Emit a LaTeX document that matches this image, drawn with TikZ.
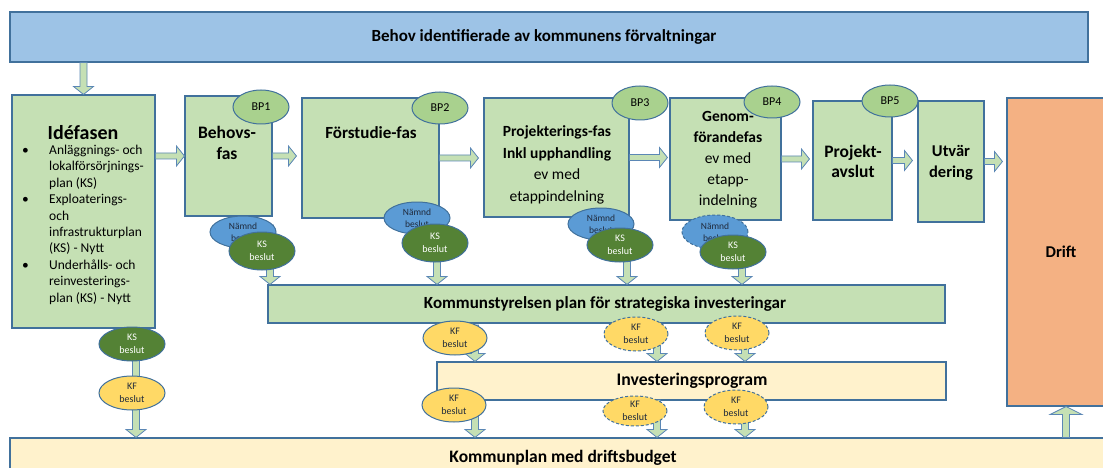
\documentclass[tikz,border=0pt]{standalone}
\usepackage{fontspec}
\setmainfont{Carlito}
\usetikzlibrary{shapes.geometric,calc}
\definecolor{bordc}{HTML}{41719C}
\definecolor{topblue}{HTML}{9DC3E6}
\definecolor{boxgreen}{HTML}{C5E0B4}
\definecolor{bpgreen}{HTML}{A9D18E}
\definecolor{namndblue}{HTML}{5B9BD5}
\definecolor{ksgreen}{HTML}{548235}
\definecolor{kfyellow}{HTML}{FFD966}
\definecolor{paleyellow}{HTML}{FFF2CC}
\definecolor{driftorange}{HTML}{F4B183}
\definecolor{arrowfill}{HTML}{C5E0B4}
\definecolor{arrowedge}{HTML}{5B87B5}
\definecolor{darktext}{HTML}{1F2A3C}

\tikzset{
  rbox/.style={draw=bordc, line width=1.1pt, rectangle, inner sep=0pt},
  greenbox/.style={rbox, fill=boxgreen},
  oval/.style={ellipse, draw=bordc, line width=1pt, inner sep=0pt, align=center},
  bp/.style={oval, fill=bpgreen, font=\fontsize{12}{14}\selectfont},
  namnd/.style={oval, fill=namndblue, text=darktext, font=\fontsize{9.5}{12}\selectfont},
  ks/.style={oval, fill=ksgreen, text=white, font=\fontsize{10}{12.5}\selectfont},
  kf/.style={oval, fill=kfyellow, text=darktext, font=\fontsize{10}{12.5}\selectfont},
  dsh/.style={dash pattern=on 3pt off 2pt},
  barrow/.style={fill=arrowfill, draw=arrowedge, line width=0.8pt, line join=miter},
  ttl/.style={font=\fontsize{17.5}{21}\selectfont\bfseries, align=center, inner sep=0pt},
  lbl/.style={align=center, inner sep=0pt},
}

% block arrows: #2 start point, #3 end point
\newcommand\arrdown[3][10pt]{%
  \path[barrow] let \p1=(#2), \p2=(#3) in
    ({\x1-3.5pt},\y1) -- ({\x1-3.5pt},{\y2+8pt}) -- ({\x1-#1},{\y2+8pt}) -- (\x1,\y2)
    -- ({\x1+#1},{\y2+8pt}) -- ({\x1+3.5pt},{\y2+8pt}) -- ({\x1+3.5pt},\y1) -- cycle;}
\newcommand\arrup[3][10pt]{%
  \path[barrow] let \p1=(#2), \p2=(#3) in
    ({\x1-3.5pt},\y1) -- ({\x1-3.5pt},{\y2-8pt}) -- ({\x1-#1},{\y2-8pt}) -- (\x1,\y2)
    -- ({\x1+#1},{\y2-8pt}) -- ({\x1+3.5pt},{\y2-8pt}) -- ({\x1+3.5pt},\y1) -- cycle;}
\newcommand\arrright[3][10pt]{%
  \path[barrow] let \p1=(#2), \p2=(#3) in
    (\x1,{\y1+3pt}) -- ({\x2-8pt},{\y1+3pt}) -- ({\x2-8pt},{\y1+#1}) -- (\x2,\y1)
    -- ({\x2-8pt},{\y1-#1}) -- ({\x2-8pt},{\y1-3pt}) -- (\x1,{\y1-3pt}) -- cycle;}

\begin{document}
\begin{tikzpicture}[x=1pt, y=-1pt]
\useasboundingbox (0,0) rectangle (1103,468);
\clip (0,0) rectangle (1103,468);

% ---------- boxes ----------
\node[rbox, fill=topblue, minimum width=1078pt, minimum height=50pt] (top) at (549,37) {};
\node[lbl, font=\fontsize{17}{19}\selectfont\bfseries] (toptxt) at (544,37) {Behov identifierade av kommunens förvaltningar};

\node[greenbox, minimum width=143pt, minimum height=233pt] (ide) at (83.5,211.5) {};
\node[greenbox, minimum width=87pt, minimum height=120pt] (beh) at (228.5,156) {};
\node[greenbox, minimum width=137pt, minimum height=120pt] (fst) at (370.5,158) {};
\node[greenbox, minimum width=145pt, minimum height=119pt] (pro) at (556.5,157.5) {};
\node[greenbox, minimum width=111pt, minimum height=122pt] (gen) at (725.5,159) {};
\node[greenbox, minimum width=79pt, minimum height=119pt] (avs) at (852.5,160.5) {};
\node[greenbox, minimum width=66pt, minimum height=121pt] (utv) at (951,161.5) {};
\node[rbox, fill=driftorange, minimum width=118pt, minimum height=308pt] (drift) at (1066,252) {};
\node[greenbox, minimum width=677pt, minimum height=38pt] (plan) at (606.5,304) {};
\node[rbox, fill=paleyellow, minimum width=509pt, minimum height=38pt] (inv) at (691.5,381) {};
\node[rbox, fill=paleyellow, minimum width=1110pt, minimum height=62pt] (bot) at (565,469) {};

% ---------- texts ----------
\node[ttl, font=\fontsize{20}{22}\selectfont\bfseries] (idet) at (83,133) {Idéfasen};
\node[anchor=north west, inner sep=0pt, align=left, font=\fontsize{13.5}{16.4}\selectfont] (idel) at (18,145) {%
\makebox[31pt][l]{\hspace{4pt}\textbullet}Anläggnings- och\\
\hspace*{31pt}lokalförsörjnings-\\
\hspace*{31pt}plan (KS)\\
\makebox[31pt][l]{\hspace{4pt}\textbullet}Exploaterings-\\
\hspace*{31pt}och\\
\hspace*{31pt}infrastrukturplan\\
\hspace*{31pt}(KS) - Nytt\\
\makebox[31pt][l]{\hspace{4pt}\textbullet}Underhålls- och\\
\hspace*{31pt}reinvesterings-\\
\hspace*{31pt}plan (KS) - Nytt};

\node[ttl] (beht) at (227,142.5) {Behovs-\\fas};
\node[ttl, font=\fontsize{17}{21}\selectfont\bfseries] (fstt) at (371,133) {Förstudie-fas};
\node[ttl, font=\fontsize{15.5}{21.5}\selectfont] (prot) at (557,165) {\textbf{Projekterings-fas}\\\textbf{Inkl upphandling}\\ev med\\etappindelning};
\node[ttl, font=\fontsize{15.5}{21}\selectfont] (gent) at (728,160) {\textbf{Genom-}\\\textbf{förandefas}\\ev med\\etapp-\\indelning};
\node[ttl, font=\fontsize{17.5}{19.5}\selectfont\bfseries] (avst) at (853,161.5) {Projekt-\\avslut};
\node[ttl, font=\fontsize{16.5}{21}\selectfont\bfseries] (utvt) at (951,162.5) {Utvär\\dering};
\node[ttl, font=\fontsize{16.5}{20}\selectfont\bfseries] (driftt) at (1061,252) {Drift};
\node[ttl, font=\fontsize{17}{19}\selectfont\bfseries] (plant) at (605,304) {Kommunstyrelsen plan för strategiska investeringar};
\node[ttl, font=\fontsize{17.7}{19}\selectfont\bfseries] (invt) at (692,381) {Investeringsprogram};
\node[ttl, font=\fontsize{17.5}{19}\selectfont\bfseries] (bott) at (563,458) {Kommunplan med driftsbudget};

% ---------- arrows ----------
\arrdown{ide.north |- top.south}{ide.north}
\arrright{ide.east |- beh.west}{beh.west}
\arrright{beh.east}{$(fst.west)+(-5,0)$}
\arrright{fst.east}{$(pro.west)+(-5,0)$}
\arrright{pro.east}{$(gen.west)+(-2,0)$}
\arrright{gen.east}{$(avs.west)+(-3,0)$}
\arrright{avs.east}{$(utv.west)+(-5,0)$}
\arrright{utv.east}{$(drift.west)+(-4,0)$}

\coordinate (c1) at (270,225);
\coordinate (c2) at (437,230);
\coordinate (c3) at (627,235);
\coordinate (c4) at (742,240);
\arrdown{c1}{plan.north}
\arrdown{c2}{plan.north}
\arrdown{c3}{plan.north}
\arrdown{c4}{plan.north}

\coordinate (c5) at (475,325);
\coordinate (c6) at (657,325);
\coordinate (c7) at (745,325);
\arrdown{c5}{inv.north}
\arrdown{c6}{inv.north}
\arrdown{c7}{inv.north}

\coordinate (c8) at (475,400);
\coordinate (c9) at (657,400);
\coordinate (c10) at (745,400);
\arrdown{c8}{bot.north}
\arrdown{c9}{bot.north}
\arrdown{c10}{bot.north}

\coordinate (c11) at (136,345);
\arrdown{c11}{bot.north}
\arrup[16pt]{drift.south |- bot.north}{drift.south}

% ---------- ellipses ----------
\node[bp, minimum width=56pt, minimum height=34pt] (bp1) at (261,107) {BP1};
\node[bp, minimum width=56pt, minimum height=32pt] (bp2) at (440,108) {BP2};
\node[bp, minimum width=56pt, minimum height=34pt] (bp3) at (640,103) {BP3};
\node[bp, minimum width=56pt, minimum height=32pt] (bp4) at (772,102) {BP4};
\node[bp, minimum width=56pt, minimum height=32pt] (bp5) at (890,101) {BP5};

\node[namnd, minimum width=66pt, minimum height=32pt] (n1) at (243,232) {Nämnd\\beslut};
\node[ks, minimum width=66pt, minimum height=38pt] (ks1) at (262,251) {KS\\beslut};
\node[namnd, minimum width=66pt, minimum height=32pt] (n2) at (417,218) {Nämnd\\beslut};
\node[ks, minimum width=66pt, minimum height=38pt] (ks2) at (435,243) {KS\\beslut};
\node[namnd, minimum width=66pt, minimum height=32pt] (n3) at (601,224) {Nämnd\\beslut};
\node[ks, minimum width=66pt, minimum height=34pt] (ks3) at (620,245) {KS\\beslut};
\node[namnd, dsh, minimum width=66pt, minimum height=34pt] (n4) at (715,232) {Nämnd\\beslut};
\node[ks, minimum width=66pt, minimum height=34pt] (ks4) at (733,252) {KS\\beslut};

\node[ks, minimum width=66pt, minimum height=34pt] (ksi) at (132,344) {KS\\beslut};
\node[kf, minimum width=66pt, minimum height=34pt] (kfi) at (132,393) {KF\\beslut};

\node[kf, minimum width=64pt, minimum height=34pt] (kf1) at (455,338) {KF\\beslut};
\node[kf, dsh, minimum width=64pt, minimum height=34pt] (kf2) at (636,334) {KF\\beslut};
\node[kf, dsh, minimum width=64pt, minimum height=34pt] (kf3) at (737,333) {KF\\beslut};
\node[kf, minimum width=64pt, minimum height=34pt] (kf4) at (454,405) {KF\\beslut};
\node[kf, dsh, minimum width=64pt, minimum height=30pt] (kf5) at (635,411) {KF\\beslut};
\node[kf, dsh, minimum width=64pt, minimum height=34pt] (kf6) at (736,407) {KF\\beslut};
\end{tikzpicture}
\end{document}
